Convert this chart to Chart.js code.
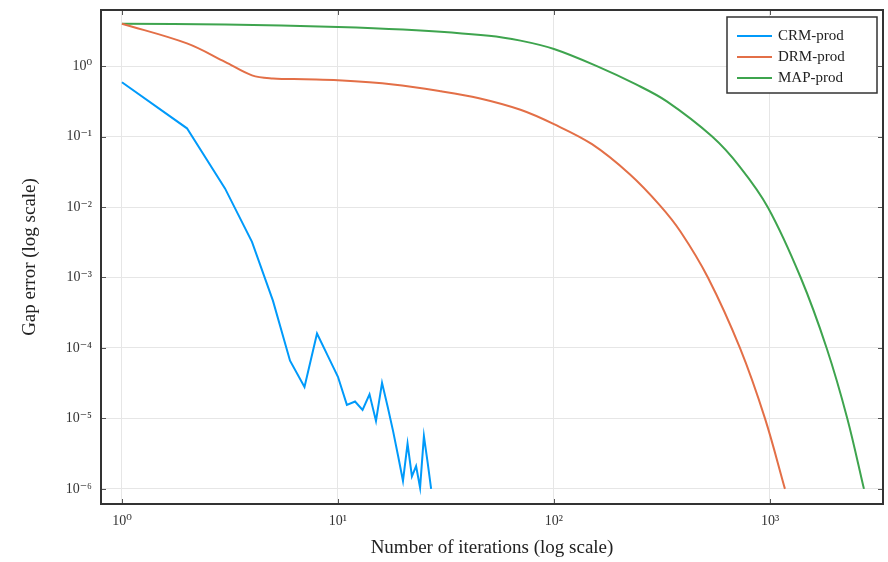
<!doctype html>
<html>
<head>
<meta charset="utf-8">
<script src="https://cdn.jsdelivr.net/npm/chart.js@4.4.1/dist/chart.umd.min.js"></script>
<style>
  html, body { margin: 0; padding: 0; background: #fff; }
  #wrap { width: 888px; height: 562px; }
</style>
</head>
<body>
<div id="wrap"><canvas id="c" width="888" height="562"></canvas></div>
<script>
// values (log-log gap error vs iterations)
const crmIters = [1, 2, 3, 4, 5, 6, 7, 8, 9, 10, 11, 12, 13, 14, 15, 16, 17, 18, 19, 20, 21, 22, 23, 24, 25, 26, 27];
const crmGap = [0.59, 0.131, 0.0184, 0.0032, 4.7e-4, 6.6e-5, 2.8e-5, 1.6e-4, 7.6e-5, 3.9e-5, 1.56e-5, 1.74e-5, 1.32e-5,
                2.2e-5, 9.2e-6, 3.2e-5, 1.45e-5, 6.6e-6, 2.9e-6, 1.3e-6, 4.4e-6, 1.5e-6, 2.1e-6, 1.04e-6, 5.6e-6, 2.4e-6, 1.0e-6];

const drmIters = [1, 2, 3, 4, 5, 7, 10, 18, 30, 45, 70, 100, 150, 225, 310, 385, 516, 726, 948, 1173];
const drmGap = [4.0, 2.1, 1.15, 0.74, 0.67, 0.65, 0.63, 0.55, 0.44, 0.35, 0.24, 0.15, 0.078, 0.029, 0.0105, 0.0045, 1e-3, 1e-4, 1e-5, 1e-6];

const mapIters = [1, 3, 10, 20, 50, 70, 100, 158, 240, 333, 540, 727, 980, 1387, 1829, 2280, 2723];
const mapGap = [4.0, 3.9, 3.6, 3.3, 2.7, 2.3, 1.75, 1.0, 0.55, 0.316, 0.1, 0.037, 0.0098, 1e-3, 1e-4, 1e-5, 1e-6];

const seriesNames = ["CRM-prod", "DRM-prod", "MAP-prod"];
const seriesColors = ["#009AFA", "#E36F47", "#3EA44E"];

const xTicks = [1, 10, 100, 1000];
const yTicks = [1e-6, 1e-5, 1e-4, 1e-3, 1e-2, 1e-1, 1e0];
const xTitle = "Number of iterations (log scale)";
const yTitle = "Gap error (log scale)";

const SERIF = "'Liberation Serif', 'DejaVu Serif', serif";
const SUP = { "0": "⁰", "1": "¹", "2": "²", "3": "³", "4": "⁴", "5": "⁵", "6": "⁶", "7": "⁷", "8": "⁸", "9": "⁹", "-": "⁻" };
const pow10 = (v) => "10" + String(Math.round(Math.log10(v))).split("").map((c) => SUP[c]).join("");

const toPoints = (xs, ys) => xs.map((x, i) => ({ x, y: ys[i] }));

// frame, mirrored inner tick marks, axis titles and the boxed legend
const decor = {
  id: "decor",
  afterDraw(chart) {
    const { ctx, chartArea: a, scales } = chart;
    ctx.save();
    ctx.strokeStyle = "#555";
    ctx.lineWidth = 1;
    for (const v of yTicks) {
      const y = Math.round(scales.y.getPixelForValue(v)) + 0.5;
      ctx.beginPath();
      ctx.moveTo(a.left, y); ctx.lineTo(a.left + 5, y);
      ctx.moveTo(a.right - 5, y); ctx.lineTo(a.right, y);
      ctx.stroke();
    }
    for (const v of xTicks) {
      const x = Math.round(scales.x.getPixelForValue(v)) + 0.5;
      ctx.beginPath();
      ctx.moveTo(x, a.bottom); ctx.lineTo(x, a.bottom - 5);
      ctx.moveTo(x, a.top); ctx.lineTo(x, a.top + 5);
      ctx.stroke();
    }
    ctx.strokeStyle = "#333";
    ctx.lineWidth = 2;
    ctx.strokeRect(a.left, a.top, a.right - a.left, a.bottom - a.top);

    // axis titles
    ctx.fillStyle = "#222";
    ctx.font = "19px " + SERIF;
    ctx.textAlign = "center";
    ctx.textBaseline = "middle";
    ctx.fillText(xTitle, (a.left + a.right) / 2, 548);
    ctx.translate(30, (a.top + a.bottom) / 2);
    ctx.rotate(-Math.PI / 2);
    ctx.fillText(yTitle, 0, 0);
    ctx.setTransform(1, 0, 0, 1, 0, 0);

    // legend box, top right inside the plot
    const bx = 727, by = 17, bw = a.right - 6 - bx, bh = 76;
    ctx.fillStyle = "#fff";
    ctx.fillRect(bx, by, bw, bh);
    ctx.strokeStyle = "#333";
    ctx.lineWidth = 1.5;
    ctx.strokeRect(bx, by, bw, bh);
    ctx.font = "15px " + SERIF;
    ctx.textAlign = "left";
    chart.data.datasets.forEach((ds, i) => {
      const y = by + 19 + i * 21;
      ctx.strokeStyle = ds.borderColor;
      ctx.lineWidth = 2;
      ctx.beginPath();
      ctx.moveTo(bx + 10, y); ctx.lineTo(bx + 45, y);
      ctx.stroke();
      ctx.fillStyle = "#222";
      ctx.fillText(ds.label, bx + 51, y);
    });
    ctx.restore();
  }
};

new Chart(document.getElementById("c"), {
  type: "line",
  data: {
    datasets: [
      { label: seriesNames[0], data: toPoints(crmIters, crmGap), borderColor: seriesColors[0], borderWidth: 2, pointRadius: 0, tension: 0 },
      { label: seriesNames[1], data: toPoints(drmIters, drmGap), borderColor: seriesColors[1], borderWidth: 2, pointRadius: 0, tension: 0.35 },
      { label: seriesNames[2], data: toPoints(mapIters, mapGap), borderColor: seriesColors[2], borderWidth: 2, pointRadius: 0, tension: 0.35 }
    ]
  },
  options: {
    responsive: false,
    animation: false,
    devicePixelRatio: 1,
    layout: { padding: { top: 10, right: 5, bottom: 0, left: 0 } },
    plugins: { legend: { display: false }, tooltip: { enabled: false } },
    scales: {
      x: {
        type: "logarithmic",
        min: 0.8,
        max: 3336,
        afterFit: (s) => { s.height = 58; s.paddingLeft = 0; s.paddingRight = 0; },
        afterBuildTicks: (s) => { s.ticks = xTicks.map((v) => ({ value: v })); },
        grid: { color: "#e6e6e6", drawTicks: false },
        border: { display: false },
        ticks: { autoSkip: false, maxRotation: 0, padding: 9, color: "#333", font: { family: SERIF, size: 14 }, callback: (v) => pow10(v) }
      },
      y: {
        type: "logarithmic",
        min: 6.1e-7,
        max: 6.26,
        afterFit: (s) => { s.width = 101; s.paddingTop = 0; s.paddingBottom = 0; },
        afterBuildTicks: (s) => { s.ticks = yTicks.map((v) => ({ value: v })); },
        grid: { color: "#e6e6e6", drawTicks: false },
        border: { display: false },
        ticks: { autoSkip: false, padding: 9, color: "#333", font: { family: SERIF, size: 14 }, callback: (v) => pow10(v) }
      }
    }
  },
  plugins: [decor]
});
</script>
</body>
</html>
